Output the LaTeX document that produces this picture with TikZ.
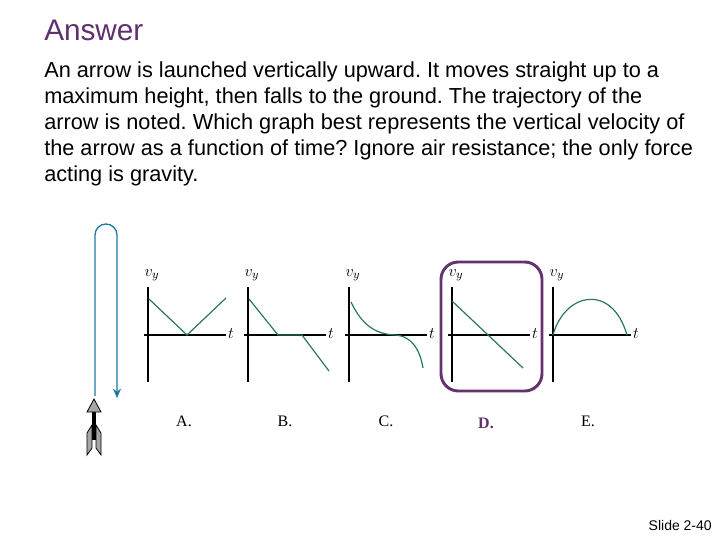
\documentclass[tikz,border=0pt]{standalone}
\usepackage{fontspec}
\usetikzlibrary{arrows.meta}
\setmainfont{Liberation Sans}
\newfontfamily\serifm{Liberation Serif}
\definecolor{ttl}{RGB}{96,48,112}
\definecolor{crv}{RGB}{40,120,90}
\definecolor{bluep}{RGB}{30,120,165}
\definecolor{boxc}{RGB}{100,50,110}
\begin{document}
\frenchspacing
\begin{tikzpicture}[x=0.75pt,y=-0.75pt,
  ax/.style={line width=1.1pt,black},
  cv/.style={line width=0.9pt,crv},
  lab/.style={font=\serifm\fontsize{12}{14}\selectfont},
  var/.style={font=\fontsize{12.5}{14}\selectfont},
  body/.style={anchor=west,inner sep=0,font=\fontsize{16.3}{18}\selectfont}]
\useasboundingbox (0,0) rectangle (720,540);
\node[anchor=west,inner sep=0,text=ttl,font=\fontsize{22.3}{26}\selectfont] (title) at (44,30) {Answer};
\node[body] (l1) at (44,72) {An arrow is launched vertically upward. It moves straight up to a};
\node[body] (l2) at (44,98) {maximum height, then falls to the ground. The trajectory of the};
\node[body] (l3) at (44,124) {arrow is noted. Which graph best represents the vertical velocity of};
\node[body] (l4) at (44,150) {the arrow as a function of time? Ignore air resistance; the only force};
\node[body] (l5) at (44,176) {acting is gravity.};
\node[anchor=east,inner sep=0,font=\fontsize{10.5}{12}\selectfont] (slide) at (712,525) {Slide 2-40};
% trajectory
\draw[bluep,line width=1pt,-{Stealth[length=7pt,width=6pt]}] (95,396) -- (95,235) arc[start angle=180,end angle=360,x radius=11,y radius=11] -- (117,398);
% arrow figure
\draw[black,line width=2.5pt] (94,410) -- (94,440);
\fill[gray!70,draw=black,line width=0.6pt] (94,399) -- (101,412) -- (87,412) -- cycle;
\fill[gray!70,draw=black,line width=0.6pt] (92,425) -- (87,433) -- (87,455) -- (92,448) -- cycle;
\fill[gray!70,draw=black,line width=0.6pt] (96,425) -- (101,433) -- (101,455) -- (96,448) -- cycle;
% graphs
\foreach \gx/\nm in {148/A,248/B,349/C,452/D,553/E}{
  \draw[ax] (\gx,287) -- (\gx,382);
  \draw[ax] (\gx-4,335) -- (\gx+78,335);
  \node[var] (t\nm) at (\gx+83,334) {$t$};
  \node[var] (v\nm) at (\gx+4,275) {$v_y$};
}
\draw[cv] (149,299) -- (187,335) -- (226,298);
\draw[cv] (249,299) -- (278,335) -- (302,335) -- (329,371);
\draw[cv] (351,302) .. controls (362,325) and (375,334) .. (395,335) .. controls (412,336) and (420,350) .. (423,368);
\draw[cv] (452,301) -- (523,368);
\draw[cv] (553,335) .. controls (565,292) and (612,283) .. (627,335);
\draw[boxc,line width=2.2pt,rounded corners=13pt] (441,262) rectangle (542,391);
\node[lab] (A) at (184,421) {A.};
\node[lab] (B) at (285,421) {B.};
\node[lab] (C) at (386,421) {C.};
\node[lab,text=boxc,font=\serifm\bfseries\fontsize{12}{14}\selectfont] (D) at (486,423) {D.};
\node[lab] (E) at (588,421) {E.};
\end{tikzpicture}
\end{document}
